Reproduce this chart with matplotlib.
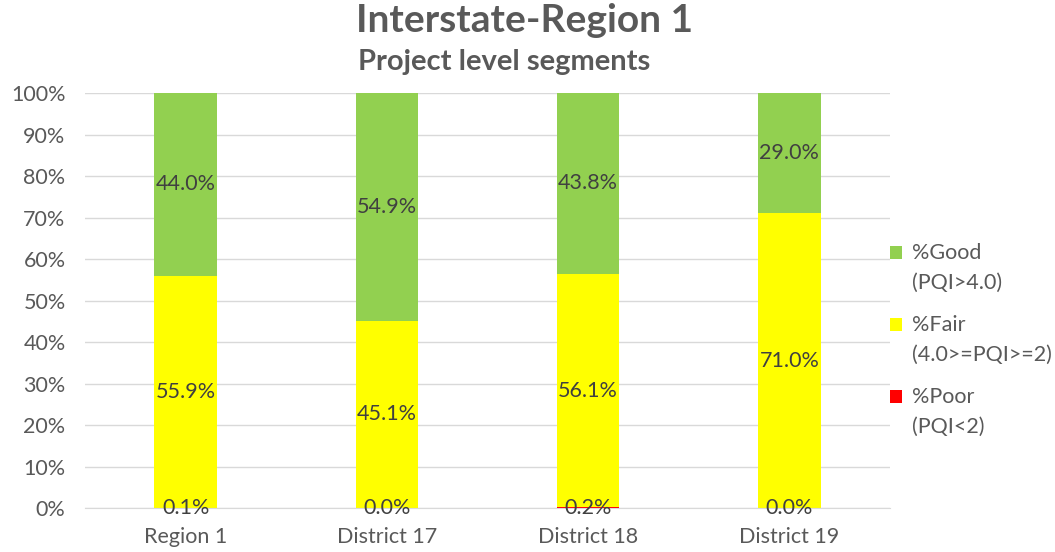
import numpy as np
import matplotlib.pyplot as plt
from matplotlib.patches import Rectangle
from matplotlib.legend_handler import HandlerPatch

plt.rcParams['font.family'] = ['Lato', 'DejaVu Sans']

# Datos
categorias = ['Region 1', 'District 17', 'District 18', 'District 19']
poor = [0.1, 0.0, 0.2, 0.0]
fair = [55.9, 45.1, 56.1, 71.0]
good = [44.0, 54.9, 43.8, 29.0]

gris = '#595959'
fig = plt.figure(figsize=(10.55, 5.52), dpi=100)
ax = fig.add_axes([0.0806, 0.0797, 0.763, 0.7518])

x = np.arange(len(categorias))
w = 0.31
b_poor = ax.bar(x, poor, w, color='#ff0000', label='%Poor\n(PQI<2)')
b_fair = ax.bar(x, fair, w, bottom=poor, color='#ffff00', label='%Fair\n(4.0>=PQI>=2)')
base = np.array(poor) + np.array(fair)
b_good = ax.bar(x, good, w, bottom=base, color='#92d050', label='%Good\n(PQI>4.0)')

# Etiquetas
fs = 15.5
for i in range(len(x)):
    ax.text(x[i], 0, f'{poor[i]:.1f}%', ha='center', va='center', fontsize=fs, color='#404040')
    ax.text(x[i], poor[i] + fair[i] / 2, f'{fair[i]:.1f}%', ha='center', va='center', fontsize=fs, color='#404040')
    ax.text(x[i], base[i] + good[i] / 2, f'{good[i]:.1f}%', ha='center', va='center', fontsize=fs, color='#404040')

ax.set_xlim(-0.5, 3.5)
ax.set_ylim(0, 100)
ax.set_yticks(np.arange(0, 101, 10))
ax.set_yticklabels([f'{v}%' for v in range(0, 101, 10)])
ax.set_xticks(x)
ax.set_xticklabels(categorias)
ax.tick_params(axis='both', length=0, labelsize=fs, labelcolor=gris)
ax.tick_params(axis='y', pad=14)
ax.tick_params(axis='x', pad=14)
ax.grid(axis='y', color='#d9d9d9', linewidth=1)
ax.set_axisbelow(True)
for s in ['top', 'right', 'left']:
    ax.spines[s].set_visible(False)
ax.spines['bottom'].set_color('#d9d9d9')

fig.text(0.4976, 0.962, 'Interstate-Region 1', ha='center', va='center', fontsize=28, fontweight='bold', color=gris)
fig.text(0.4777, 0.887, 'Project level segments', ha='center', va='center', fontsize=21, fontweight='bold', color=gris)


# cuadrito de leyenda alineado con la primera linea
def cuadro(legend, orig_handle, xdescent, ydescent, width, height, fontsize):
    return Rectangle((-xdescent, -ydescent + 0.75 * fontsize), width, height)


def copiar(legend_handle, orig_handle):
    legend_handle.update_from(orig_handle[0])


h = [b_good, b_fair, b_poor]
leg = ax.legend(h, [hh.get_label() for hh in h], loc='center left', bbox_to_anchor=(1.0, 0.405),
                frameon=False, fontsize=fs, labelcolor=gris, handlelength=0.55, handleheight=0.55,
                handletextpad=0.45, labelspacing=1.0, borderaxespad=0.0, borderpad=0.0,
                handler_map={type(b_good): HandlerPatch(patch_func=cuadro, update_func=copiar)})
for t in leg.get_texts():
    t.set_linespacing(1.65)

fig.savefig('out.png', dpi=100)
